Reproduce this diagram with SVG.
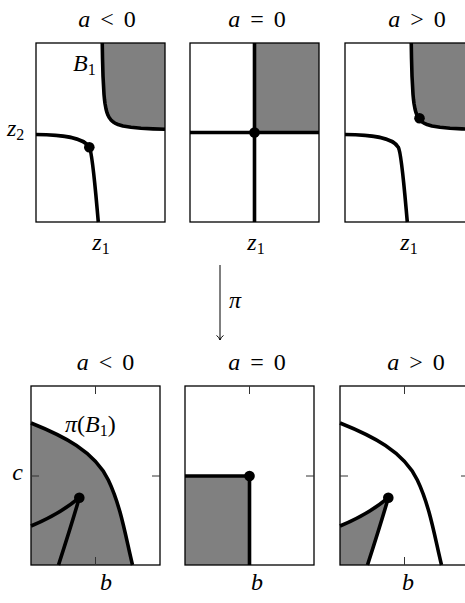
<svg xmlns="http://www.w3.org/2000/svg" width="465" height="603" viewBox="0 0 465 603">
<style>
text{font-family:"Liberation Serif","Times New Roman",serif;font-size:24px;fill:#000}
.it{font-style:italic}
.sub{font-size:16px}
.box{fill:none;stroke:#000;stroke-width:1.3}
.shade{fill:#808080;stroke:none}
.crv{fill:none;stroke:#000;stroke-width:3.6;stroke-linejoin:round;stroke-linecap:butt}
.dot{fill:#000}
.tick{stroke:#333;stroke-width:1}
.arr{fill:none;stroke:#000;stroke-width:1}
</style>
<rect width="465" height="603" fill="#fff"/>

<g id="panel-top-neg">
<text x="107" y="27" text-anchor="middle" word-spacing="4"><tspan class="it">a</tspan> &lt; 0</text>
<path class="shade" d="M102.25,43 L102.5,57.7 L103,76 L104,94.3 L104.5,99.6 L105,103.5 L106,109 L107,112.7 L108,115.3 L109,117.25 L111,120 L112.5,121.4 L114,122.5 L116,123.7 L118,124.5 L123,126 L131,127.3 L141,128.25 L153,128.9 L165,129.3 L165,43 Z"/>
<rect class="box" x="36" y="43" width="129" height="179"/>
<path class="crv" d="M102.25,43 L102.5,57.7 L103,76 L104,94.3 L104.5,99.6 L105,103.5 L106,109 L107,112.7 L108,115.3 L109,117.25 L111,120 L112.5,121.4 L114,122.5 L116,123.7 L118,124.5 L123,126 L131,127.3 L141,128.25 L153,128.9 L165,129.3"/>
<path class="crv" d="M36,134.5 C61,134.8 83.3,136.9 89.3,147.3 C92.5,152.5 95,185 98.3,222"/>
<circle class="dot" cx="89.3" cy="147.3" r="5.3"/>
<text x="73" y="71"><tspan class="it">B</tspan><tspan class="sub" dy="4">1</tspan></text>
<text x="7" y="136"><tspan class="it">z</tspan><tspan class="sub" dy="4">2</tspan></text>
<text x="101" y="250" text-anchor="middle"><tspan class="it">z</tspan><tspan class="sub" dy="4">1</tspan></text>
</g>

<g id="panel-top-zero">
<text x="257" y="27" text-anchor="middle" word-spacing="4"><tspan class="it">a</tspan> = 0</text>
<rect class="shade" x="254.5" y="43" width="64.5" height="89.5"/>
<rect class="box" x="190" y="43" width="129" height="179"/>
<line class="crv" x1="190" y1="132.5" x2="319" y2="132.5"/>
<line class="crv" x1="254.5" y1="43" x2="254.5" y2="222"/>
<circle class="dot" cx="254.5" cy="132.5" r="5.3"/>
<text x="256" y="250" text-anchor="middle"><tspan class="it">z</tspan><tspan class="sub" dy="4">1</tspan></text>
</g>

<g id="panel-top-pos">
<text x="417" y="27" text-anchor="middle" word-spacing="4"><tspan class="it">a</tspan> &gt; 0</text>
<g transform="translate(309,0)">
<path class="shade" d="M102.25,43 L102.5,57.7 L103,76 L104,94.3 L104.5,99.6 L105,103.5 L106,109 L107,112.7 L108,115.3 L109,117.25 L111,120 L112.5,121.4 L114,122.5 L116,123.7 L118,124.5 L123,126 L131,127.3 L141,128.25 L153,128.9 L165,129.3 L165,43 Z"/>
<rect class="box" x="36" y="43" width="129" height="179"/>
<path class="crv" d="M102.25,43 L102.5,57.7 L103,76 L104,94.3 L104.5,99.6 L105,103.5 L106,109 L107,112.7 L108,115.3 L109,117.25 L111,120 L112.5,121.4 L114,122.5 L116,123.7 L118,124.5 L123,126 L131,127.3 L141,128.25 L153,128.9 L165,129.3"/>
<path class="crv" d="M36,134.5 C61,134.8 83.3,136.9 89.3,147.3 C92.5,152.5 95,185 98.3,222"/>
<circle class="dot" cx="110.5" cy="118.3" r="5.3"/>
</g>
<text x="409" y="250" text-anchor="middle"><tspan class="it">z</tspan><tspan class="sub" dy="4">1</tspan></text>
</g>

<g id="connectors">
<line class="arr" x1="220" y1="265" x2="220" y2="340"/>
<path class="arr" d="M216.5,335.5 Q219,337 220,340 Q221,337 223.5,335.5"/>
<text x="229" y="308" class="it">π</text>
</g>

<g id="panel-bot-neg">
<text x="105.5" y="370" text-anchor="middle" word-spacing="4"><tspan class="it">a</tspan> &lt; 0</text>
<path class="shade" d="M31,423 C63,435.8 94.5,451.2 108.3,480 C120.8,506.1 125.5,536 132.5,565 L31,565 Z"/>
<rect class="box" x="31" y="386" width="129" height="179"/>
<line class="tick" x1="95.5" y1="386" x2="95.5" y2="394"/>
<line class="tick" x1="95.5" y1="557" x2="95.5" y2="565"/>
<line class="tick" x1="31" y1="476" x2="39" y2="476"/>
<line class="tick" x1="152" y1="476" x2="160" y2="476"/>
<path class="crv" d="M31,423 C63,435.8 94.5,451.2 108.3,480 C120.8,506.1 125.5,536 132.5,565"/>
<path class="crv" d="M31,526 Q60,514 79.3,497.7"/>
<path class="crv" d="M79.3,497.7 Q73,520 58.5,565"/>
<circle class="dot" cx="79.3" cy="497.7" r="5.3"/>
<text x="65" y="432"><tspan class="it">π</tspan>(<tspan class="it">B</tspan><tspan class="sub" dy="4">1</tspan><tspan dy="-4">)</tspan></text>
<text x="17.5" y="480" text-anchor="middle" class="it">c</text>
<text x="106" y="590" text-anchor="middle" class="it">b</text>
</g>

<g id="panel-bot-zero">
<text x="257" y="370" text-anchor="middle" word-spacing="4"><tspan class="it">a</tspan> = 0</text>
<rect class="shade" x="185" y="476" width="64.5" height="89"/>
<rect class="box" x="185" y="386" width="129" height="179"/>
<line class="tick" x1="249.5" y1="386" x2="249.5" y2="394"/>
<line class="tick" x1="306" y1="476" x2="314" y2="476"/>
<path class="crv" d="M185,476 L249.5,476 L249.5,565"/>
<circle class="dot" cx="249.5" cy="476" r="5.3"/>
<text x="257" y="590" text-anchor="middle" class="it">b</text>
</g>

<g id="panel-bot-pos">
<text x="416" y="370" text-anchor="middle" word-spacing="4"><tspan class="it">a</tspan> &gt; 0</text>
<g transform="translate(309,0)">
<path class="shade" d="M31,526 Q60,514 79.3,497.7 Q73,520 58.5,565 L31,565 Z"/>
<rect class="box" x="31" y="386" width="129" height="179"/>
<line class="tick" x1="95.5" y1="386" x2="95.5" y2="394"/>
<line class="tick" x1="95.5" y1="557" x2="95.5" y2="565"/>
<line class="tick" x1="31" y1="476" x2="39" y2="476"/>
<line class="tick" x1="152" y1="476" x2="160" y2="476"/>
<path class="crv" d="M31,423 C63,435.8 94.5,451.2 108.3,480 C120.8,506.1 125.5,536 132.5,565"/>
<path class="crv" d="M31,526 Q60,514 79.3,497.7"/>
<path class="crv" d="M79.3,497.7 Q73,520 58.5,565"/>
<circle class="dot" cx="79.3" cy="497.7" r="5.3"/>
</g>
<text x="408" y="590" text-anchor="middle" class="it">b</text>
</g>
</svg>
